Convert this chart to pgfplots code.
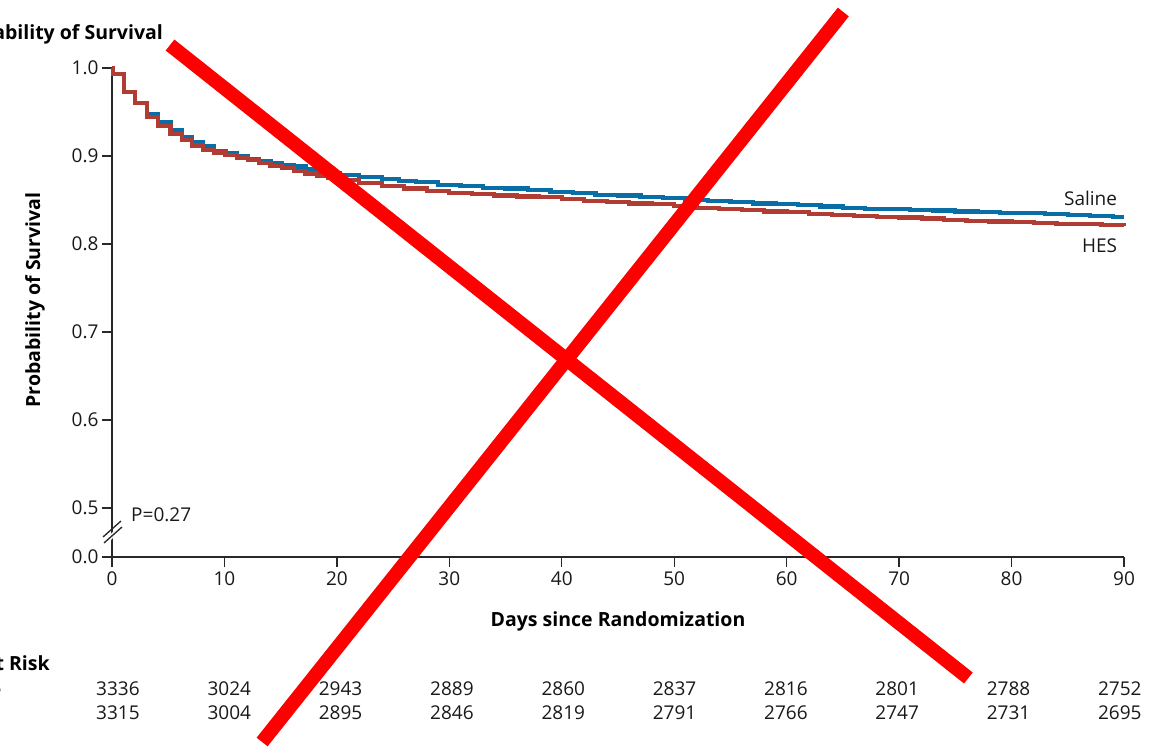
\documentclass[border=0pt]{standalone}
\usepackage{pgfplots}
\pgfplotsset{compat=1.18}
\usepackage{fontspec}
\setmainfont{Open Sans}
\definecolor{salineblue}{RGB}{10,110,166}
\definecolor{hesred}{RGB}{176,60,52}
\definecolor{axisgray}{RGB}{40,40,40}
\tikzset{risk/.style={anchor=center, font=\fontsize{19}{22}\selectfont, text=black!90}}
\begin{document}
\begin{tikzpicture}
\begin{axis}[
  scale only axis, width=1012pt, height=489pt,
  xmin=0, xmax=90, ymin=0.4443, ymax=1.0,
  clip=false,
  axis x line*=bottom, axis y line*=left,
  axis line style={axisgray, line width=1.4pt, -},
  every tick/.style={axisgray, line width=1.4pt},
  tick align=outside, major tick length=10pt,
  xtick={0,10,20,30,40,50,60,70,80,90},
  xticklabels={0,10,20,30,40,50,60,70,80,90},
  ytick={0.4443,0.5,0.6,0.7,0.8,0.9,1.0},
  yticklabels={0.0,0.5,0.6,0.7,0.8,0.9,1.0},
  /pgf/number format/assume math mode=true,
  tick label style={font=\fontsize{19}{22}\selectfont, text=black!90},
  xticklabel style={yshift=-1pt},
  xlabel={Days since Randomization},
  xlabel style={at={(axis description cs:0.5,0)}, anchor=center, yshift=-64pt, font=\fontsize{19.5}{22}\selectfont\bfseries},
  ylabel={Probability of Survival},
  ylabel style={at={(axis description cs:0,0.5256)}, anchor=center, yshift=77pt, font=\fontsize{19.5}{22}\selectfont\bfseries},
]
% Saline (blue)
\addplot[const plot mark left, salineblue, line width=4.2pt, line join=miter] coordinates {
(0,1.000) (0.1,0.993) (1.05,0.973) (2.05,0.960) (3.1,0.948) (4.1,0.938) (5.2,0.929) (6.2,0.922) (7.1,0.916) (8.1,0.911) (9.1,0.906) (10.1,0.903) (11.1,0.900) (12.1,0.897) (13.1,0.894) (14.1,0.892) (15.1,0.890) (16.2,0.888) (17.2,0.885) (18.2,0.882) (19.2,0.880) (20.3,0.878) (22,0.876) (24,0.874) (25.5,0.872) (27,0.870) (29,0.867) (31,0.866) (33,0.864) (35,0.863) (37,0.861) (39,0.859) (41,0.858) (43,0.856) (45,0.855) (47,0.853) (49,0.852) (51,0.850) (53,0.849) (55,0.848) (57,0.846) (59,0.845) (61,0.844) (63,0.8425) (65,0.841) (67,0.840) (69,0.8395) (71,0.839) (73,0.838) (75,0.837) (77,0.836) (79,0.8355) (81,0.835) (83,0.834) (85,0.833) (87,0.832) (89,0.831) (90,0.831)
};
% HES (red)
\addplot[const plot mark left, hesred, line width=4.2pt, line join=miter] coordinates {
(0,1.000) (0.1,0.993) (1.05,0.973) (2.05,0.960) (3.1,0.944) (4.1,0.9345) (5.2,0.925) (6.2,0.918) (7.1,0.912) (8.1,0.907) (9.1,0.904) (10.1,0.901) (11.1,0.898) (12.1,0.895) (13.1,0.892) (14.1,0.889) (15.1,0.886) (16.2,0.883) (17.2,0.880) (18.2,0.877) (19.2,0.875) (20.3,0.873) (22,0.869) (24,0.866) (26,0.863) (28,0.860) (30,0.858) (32,0.857) (34,0.855) (36,0.854) (38,0.853) (40,0.851) (42,0.849) (44,0.848) (46,0.846) (48,0.845) (50,0.843) (52,0.841) (54,0.840) (56,0.839) (58,0.837) (60,0.836) (62,0.834) (64,0.833) (66,0.832) (68,0.831) (70,0.830) (72,0.829) (74,0.827) (76,0.826) (78,0.8255) (80,0.825) (82,0.824) (84,0.823) (86,0.8225) (88,0.822) (90,0.821)
};
% axis break
\fill[white] ([shift={(-10pt,-13pt)}]axis cs:0,0.475) -- ([shift={(10pt,7pt)}]axis cs:0,0.475) -- ([shift={(10pt,1pt)}]axis cs:0,0.475) -- ([shift={(-10pt,-19pt)}]axis cs:0,0.475) -- cycle;
\draw[axisgray, line width=1.3pt] ([shift={(-9pt,-7pt)}]axis cs:0,0.475) -- ++(18pt,16pt);
\draw[axisgray, line width=1.3pt] ([shift={(-8pt,-13pt)}]axis cs:0,0.475) -- ++(18pt,16pt);
% labels
\node[anchor=west, inner sep=0pt, font=\fontsize{19}{22}\selectfont, text=black!90] at (axis cs:1.69,0.492) {P=0.27};
\node[anchor=base east, inner sep=0pt, font=\fontsize{19}{22}\selectfont, text=black!90] at (axis cs:89.4,0.8443) {Saline};
\node[anchor=base east, inner sep=0pt, font=\fontsize{19}{22}\selectfont, text=black!90] at (axis cs:89.4,0.7909) {HES};
\node[anchor=base east, inner sep=0pt, font=\fontsize{19.5}{22}\selectfont\bfseries] at ([yshift=28pt]axis cs:4.54,1.0) {Probability of Survival};
\node[anchor=base east, inner sep=0pt, font=\fontsize{19.5}{22}\selectfont\bfseries] at ([yshift=-113pt]axis cs:-5.52,0.4443) {No. at Risk};
\node[anchor=east, inner sep=0pt, font=\fontsize{19}{22}\selectfont, text=black!90] at ([yshift=-132pt]axis cs:-9.8,0.4443) {Saline};
\node[anchor=west, inner sep=0pt, font=\fontsize{19}{22}\selectfont, text=black!90] at ([yshift=-156pt]axis cs:-14.5,0.4443) {HES};
\node[risk] at ([yshift=-132pt]axis cs:0.53,0.4443) {3336};
\node[risk] at ([yshift=-156pt]axis cs:0.53,0.4443) {3315};
\node[risk] at ([yshift=-132pt]axis cs:10.43,0.4443) {3024};
\node[risk] at ([yshift=-156pt]axis cs:10.43,0.4443) {3004};
\node[risk] at ([yshift=-132pt]axis cs:20.33,0.4443) {2943};
\node[risk] at ([yshift=-156pt]axis cs:20.33,0.4443) {2895};
\node[risk] at ([yshift=-132pt]axis cs:30.23,0.4443) {2889};
\node[risk] at ([yshift=-156pt]axis cs:30.23,0.4443) {2846};
\node[risk] at ([yshift=-132pt]axis cs:40.13,0.4443) {2860};
\node[risk] at ([yshift=-156pt]axis cs:40.13,0.4443) {2819};
\node[risk] at ([yshift=-132pt]axis cs:50.03,0.4443) {2837};
\node[risk] at ([yshift=-156pt]axis cs:50.03,0.4443) {2791};
\node[risk] at ([yshift=-132pt]axis cs:59.93,0.4443) {2816};
\node[risk] at ([yshift=-156pt]axis cs:59.93,0.4443) {2766};
\node[risk] at ([yshift=-132pt]axis cs:69.83,0.4443) {2801};
\node[risk] at ([yshift=-156pt]axis cs:69.83,0.4443) {2747};
\node[risk] at ([yshift=-132pt]axis cs:79.73,0.4443) {2788};
\node[risk] at ([yshift=-156pt]axis cs:79.73,0.4443) {2731};
\node[risk] at ([yshift=-132pt]axis cs:89.63,0.4443) {2752};
\node[risk] at ([yshift=-156pt]axis cs:89.63,0.4443) {2695};
% red cross
\addplot[red, line width=14pt, line cap=butt] coordinates {(5.16,1.0261) (76.16,0.3068)};
\addplot[red, line width=14pt, line cap=butt] coordinates {(65.04,1.0636) (13.35,0.2341)};
\coordinate (O) at (axis cs:0,0.4443);
\coordinate (TR) at (axis cs:90,1.0);
\end{axis}
\pgfresetboundingbox
\path[use as bounding box] ([shift={(-112pt,-190pt)}]O) rectangle ([shift={(39pt,68pt)}]TR);
\end{tikzpicture}
\end{document}
